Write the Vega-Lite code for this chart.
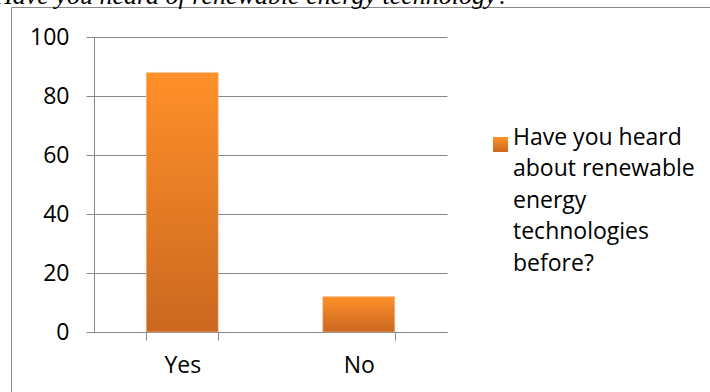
{
  "$schema": "https://vega.github.io/schema/vega-lite/v6.json",
  "width": 710,
  "height": 400,
  "autosize": {"type": "none"},
  "padding": {"left": 11, "top": 7, "right": -11, "bottom": -15},
  "background": "white",
  "title": {
    "text": "Have you heard of renewable energy technology?",
    "anchor": "start",
    "frame": "group",
    "orient": "top",
    "font": "Liberation Serif",
    "fontStyle": "italic",
    "fontWeight": "normal",
    "fontSize": 26,
    "color": "#000000",
    "baseline": "bottom",
    "offset": -28,
    "dx": -17
  },
  "data": {
    "values": [
      {"answer": "Yes", "count": 88, "series": "Have you heard about renewable energy technologies before?"},
      {"answer": "No", "count": 12, "series": "Have you heard about renewable energy technologies before?"}
    ]
  },
  "mark": {
    "type": "bar",
    "color": {
      "gradient": "linear",
      "x1": 0, "y1": 0, "x2": 0, "y2": 1,
      "stops": [
        {"offset": 0, "color": "#FF9029"},
        {"offset": 1, "color": "#CB6820"}
      ]
    },
    "strokeWidth": 1,
    "strokeOpacity": 0.5
  },
  "encoding": {
    "x": {
      "field": "answer",
      "type": "nominal",
      "sort": ["Yes", "No"],
      "scale": {"range": [83, 436], "paddingInner": 0.592, "paddingOuter": 0.296},
      "axis": {
        "title": null,
        "orient": "bottom",
        "offset": -75,
        "tickBand": "extent",
        "tickSize": 8,
        "labelAngle": 0,
        "labelPadding": 14,
        "grid": false
      }
    },
    "y": {
      "field": "count",
      "type": "quantitative",
      "scale": {"domain": [0, 100], "range": [325, 30], "nice": false},
      "axis": {
        "title": null,
        "offset": -83,
        "values": [0, 20, 40, 60, 80, 100],
        "grid": true,
        "tickSize": 8,
        "labelPadding": 17
      }
    },
    "stroke": {
      "field": "series",
      "type": "nominal",
      "scale": {"range": ["#E8C7AA"]},
      "legend": {
        "title": null,
        "orient": "none",
        "legendX": 478,
        "legendY": 126,
        "padding": 0,
        "symbolType": "square",
        "symbolSize": 225,
        "symbolStrokeWidth": 0,
        "symbolOpacity": 1,
        "labelOffset": 1,
        "labelLimit": 0,
        "labelBaseline": "alphabetic",
        "labelExpr": "['Have you heard', 'about renewable', 'energy', 'technologies', 'before?']"
      }
    }
  },
  "config": {
    "view": {"stroke": "#8a8a8a", "strokeWidth": 1},
    "font": "Open Sans",
    "axis": {
      "domainColor": "#868686",
      "tickColor": "#868686",
      "gridColor": "#868686",
      "gridOpacity": 1,
      "domainWidth": 1,
      "tickWidth": 1,
      "labelFont": "Open Sans",
      "labelFontSize": 23,
      "labelColor": "#000000"
    },
    "legend": {
      "labelFont": "Open Sans",
      "labelFontSize": 23,
      "labelColor": "#000000"
    },
    "style": {"guide-label": {"lineHeight": 31.5}}
  }
}
